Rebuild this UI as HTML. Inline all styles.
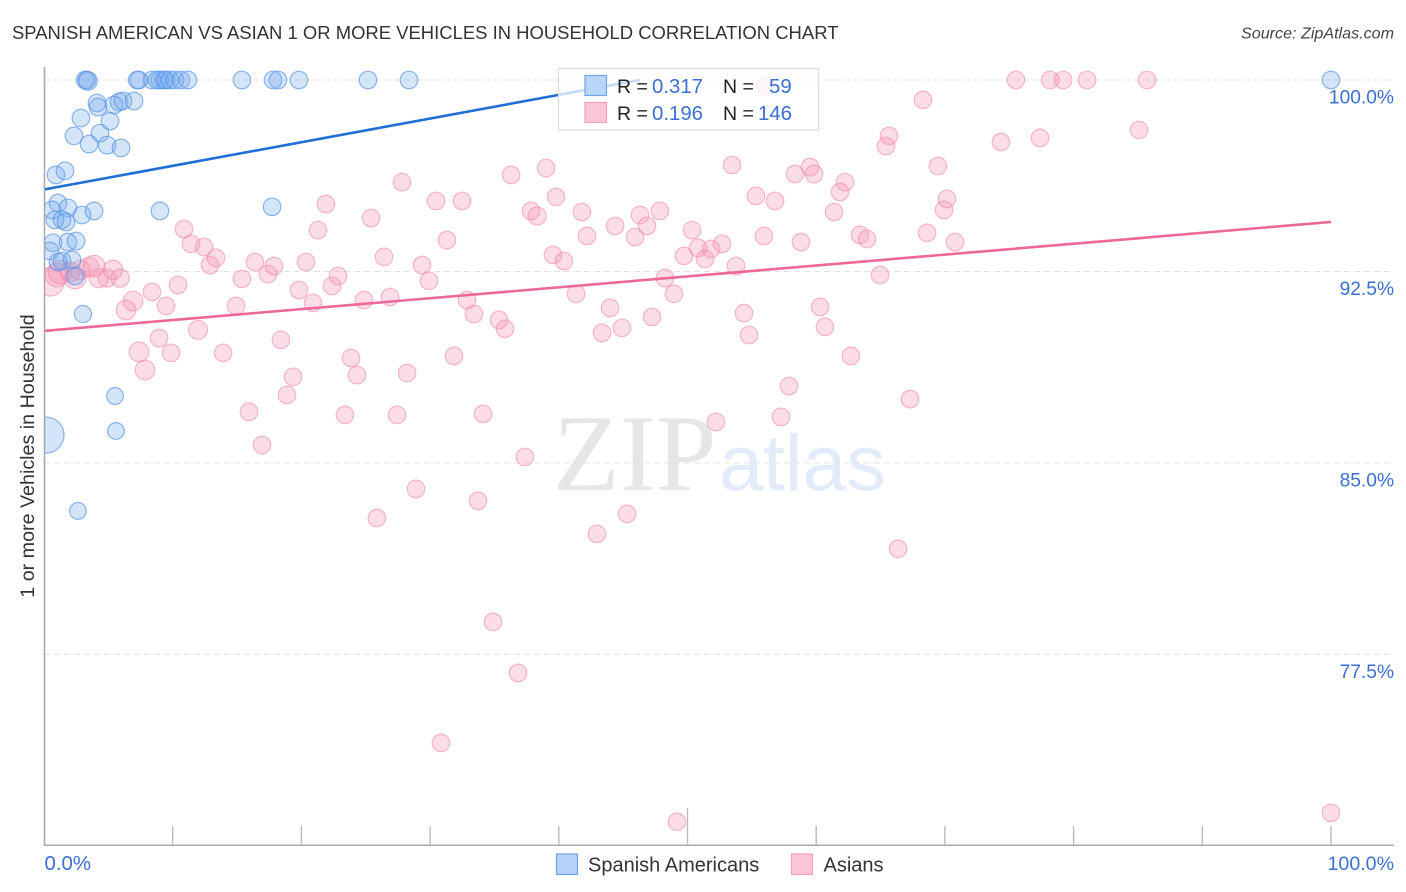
<!DOCTYPE html>
<html lang="en">
<head>
<meta charset="utf-8">
<title>Spanish American vs Asian 1 or more Vehicles in Household Correlation Chart</title>
<style>
html,body{margin:0;padding:0;background:#fff;}
body{width:1406px;height:892px;overflow:hidden;font-family:"Liberation Sans",sans-serif;}
svg{display:block;}
text{font-family:"Liberation Sans",sans-serif;}
</style>
</head>
<body>
<svg id="chart" width="1406" height="892" viewBox="0 0 1406 892" xmlns="http://www.w3.org/2000/svg">
  <defs>
    <clipPath id="plot-clip"><rect x="45" y="60" width="1349" height="785"/></clipPath>
  </defs>
  <text x="12" y="39" font-size="18.47" fill="#333">SPANISH AMERICAN VS ASIAN 1 OR MORE VEHICLES IN HOUSEHOLD CORRELATION CHART</text>
  <text x="1394" y="38.5" font-size="16.1" font-style="italic" fill="#444" text-anchor="end">Source: ZipAtlas.com</text>
  <text x="553" y="490" font-size="109" fill="#e6e6e6" style="font-family:'Liberation Serif',serif">ZIP</text>
  <text x="719" y="490" font-size="79" fill="#e2ebf9">atlas</text>
  <g id="grid"></g>
  <g id="x-axis"></g>
  <g id="y-axis"></g>
  <text transform="translate(34,456) rotate(-90)" font-size="19.7" fill="#333" text-anchor="middle">1 or more Vehicles in Household</text>
  <g clip-path="url(#plot-clip)">
    <g id="asian-points"></g>
    <g id="spanish-points"></g>
    <g id="trends"></g>
  </g>
  <g>
    <rect x="558.5" y="68.5" width="260" height="61.5" fill="#fff" fill-opacity="0.75" stroke="#ddd" stroke-width="1.2"/>
    <rect x="585" y="75.5" width="21.5" height="20" fill="#b5d3f8" fill-opacity="0.95" stroke="#6fa3e4" stroke-width="1.2"/>
    <rect x="585" y="102.5" width="21.5" height="20" fill="#fcc6d8" stroke="#f0a0b8" stroke-width="1.2"/>
    <text x="617" y="93" font-size="19.5" fill="#222" xml:space="preserve">R = </text>
    <text x="652" y="93" font-size="20.4" fill="#3b6fd1">0.317</text>
    <text x="723" y="93" font-size="19.5" fill="#222">N =</text>
    <text x="769" y="93" font-size="20.4" fill="#3b6fd1">59</text>
    <text x="617" y="120" font-size="19.5" fill="#222">R =</text>
    <text x="652" y="120" font-size="20.4" fill="#3b6fd1">0.196</text>
    <text x="723" y="120" font-size="19.5" fill="#222">N =</text>
    <text x="758" y="120" font-size="20.4" fill="#3b6fd1">146</text>
  </g>
  <g>
    <rect x="556.5" y="854" width="21" height="20.5" fill="#b5d3f8" stroke="#6fa3e4" stroke-width="1.2"/>
    <text x="588" y="871.5" font-size="20" fill="#333">Spanish Americans</text>
    <rect x="791.5" y="854" width="21" height="20.5" fill="#fcc6d8" stroke="#f0a0b8" stroke-width="1.2"/>
    <text x="823.5" y="871.5" font-size="20" fill="#333">Asians</text>
  </g>
</svg>
<script>
// Tick data
const xTickValues = [0,10,20,30,40,50,60,70,80,90,100];
const yTickValues = [100,92.5,85,77.5];
const yTickLabels = ["100.0%","92.5%","85.0%","77.5%"];
const xEndLabels = ["0.0%","100.0%"];

// Spanish Americans series (x %, y %, population weight)
const spanishX = [3.19,3.34,3.42,7.23,7.38,8.39,8.78,9.01,9.32,9.48,9.79,10.18,10.64,11.19,15.38,17.79,18.18,19.81,25.17,28.36,100,
4.12,4.20,5.44,5.83,6.14,6.99,5.13,2.87,2.33,4.35,3.50,4.90,5.98,0.93,1.63,
1.09,1.86,0.62,0.85,1.40,1.71,2.95,3.89,9.01,17.72,
0.70,1.86,2.49,0.47,1.40,2.18,1.09,2.41,3.03,5.52,5.59,2.64,0.16];
const spanishY = [100,100,99.96,100,100,100,100,100,100,100,100,100,100,100,100,100,100,100,100,100,100,
99.10,98.94,99.02,99.14,99.18,99.18,98.39,98.51,97.81,97.92,97.49,97.45,97.34,96.28,96.44,
95.18,94.99,94.91,94.52,94.52,94.44,94.71,94.87,94.87,95.03,
93.62,93.65,93.69,93.30,92.91,92.95,92.87,92.32,90.83,87.62,86.25,83.12,86.09];
const spanishWeight = [1,1,1.1,1,1,1,1,1,1,1,1,1,1,1,1,1,1,1,1,1,1,
1,1,1,1,1,1,1,1,1,1,1,1,1,1,1,
1,1,1,1,1,1,1,1,1,1,
1,1,1,1,1,1,1,1,0.95,0.9,0.9,0.9,4.18];

// Asians series (x %, y %, population weight)
const asianX = [21.91,25.41,30.46,32.48,21.29,10.88,11.42,12.43,13.36,12.90,16.39,17.87,17.40,15.38,10.41,20.36,26.42,31.31,37.84,38.31,39.78,39.55,40.40,29.37,29.91,22.84,22.38,19.81,20.90,14.92,9.48,24.86,26.88,32.87,33.41,35.35,35.82,11.97,8.94,9.87,13.91,18.41,23.85,24.32,19.35,18.88,28.21,31.86,15.93,23.39,27.43,34.11,
53.46,39.01,69.46,59.52,58.35,59.83,62.24,61.85,55.32,56.80,41.80,70.16,69.93,61.38,47.86,46.31,46.85,44.37,45.92,42.19,50.35,55.94,58.82,63.40,63.95,68.61,70.78,52.68,51.83,50.82,51.36,49.73,53.77,64.96,48.25,48.95,41.34,43.98,47.24,44.91,43.36,54.39,54.78,60.30,60.68,62.70,
65.42,65.66,68.30,74.36,77.39,85.08,75.52,78.17,79.18,81.04,85.70,56.10,36.29,27.82,67.29,57.89,52.21,57.26,37.37,28.90,33.72,25.87,42.97,45.30,66.36,34.89,36.83,30.85,49.18,100,16.94,
6.92,6.37,8.39,7.38,7.85,0.47,1.24,2.41,2.80,3.89,3.50,5.36,4.27,5.91,4.90,1.01,2.02];
const asianY = [95.14,94.59,95.26,95.26,94.12,94.16,93.58,93.46,93.03,92.75,92.87,92.71,92.40,92.21,91.97,92.87,93.07,93.73,94.87,94.67,95.42,93.15,92.91,92.75,92.13,92.32,91.93,91.77,91.27,91.15,91.15,91.38,91.50,91.38,90.83,90.60,90.25,90.21,89.89,89.31,89.31,89.82,89.11,88.44,88.37,87.66,88.52,89.19,87.00,86.88,86.88,86.92,
96.67,96.55,96.63,96.59,96.32,96.32,96.00,95.61,95.46,95.26,94.83,95.34,94.91,94.83,94.87,94.71,94.28,94.28,93.85,93.89,94.12,93.89,93.65,93.93,93.77,94.01,93.65,93.58,93.38,93.42,92.99,93.11,92.71,92.36,92.24,91.62,91.62,91.07,90.72,90.29,90.09,90.87,90.01,91.11,90.33,89.19,
97.41,97.81,99.22,97.57,97.73,98.04,100,100,100,100,100,99.76,96.28,96.00,87.50,88.01,86.60,86.80,85.23,83.98,83.51,82.84,82.22,83.00,81.63,78.77,76.77,74.03,70.94,71.29,85.70,
91.34,90.99,91.70,89.35,88.64,92.09,92.48,92.24,92.56,92.71,92.67,92.56,92.24,92.24,92.24,92.36,92.48];
const asianWeight = [1,1,1,1,1,1,1,1,1,1,1,1,1,1,1,1,1,1,1,1.05,1,1,1,1,1,1,1,1,1,1,1,1,1,1,1,1,1,1.15,1,1,1,1,1,1,1,1,1,1,1,1,1,1,
1,1,1,1,1,1,1,1,1,1,1,1,1,1,1,1,1,1,1,1,1,1,1,1,1,1,1,1,1,1,1,1,1,1,1,1,1,1,1,1,1,1,1,1,1,1,
1,1,1,1,1,1,1,1,1,1,1,1,1,1,1,1,1,1,1,1,1,1,1,1,1,1,1,1,1,1,1,
1.25,1.25,1,1.25,1.25,2.6,1.8,1.5,1.25,1.5,1.25,1.2,1.2,1.1,1.05,1.8,1.25];

// Trend lines (endpoints in data units)
const spanishTrendX = [0,46.3];
const spanishTrendY = [95.71,100];
const asianTrendX = [0,100];
const asianTrendY = [90.17,94.44];

// Axis functions
const xMin = 0, xMax = 100, yMin = 70.03, yMax = 100;
const plotLeft = 44, plotRight = 1331, plotBottom = 845, plotTop = 80;
function xScale(v){ return plotLeft + (v - xMin) / (xMax - xMin) * (plotRight - plotLeft); }
function yScale(v){ return plotBottom - (v - yMin) / (yMax - yMin) * (plotBottom - plotTop); }
function radius(w){ return 8.8 * Math.sqrt(w); }

const NS = "http://www.w3.org/2000/svg";
function make(tag, attrs, parent){
  const el = document.createElementNS(NS, tag);
  for (const k in attrs) el.setAttribute(k, attrs[k]);
  parent.appendChild(el);
  return el;
}

const gridG = document.getElementById("grid");
const xAxisG = document.getElementById("x-axis");
const yAxisG = document.getElementById("y-axis");

yTickValues.forEach(function(v, i){
  const y = yScale(v);
  const line = make("line", {x1: plotLeft, x2: 1394, y1: y, y2: y, stroke: "#e2e2e2", "stroke-width": 1, "stroke-dasharray": "6 4"}, gridG);
  
  
  const label = make("text", {x: 1394, y: y + 23.5, "text-anchor": "end", "font-size": 19.2, fill: "#3b6fd1"}, yAxisG);
  
  
  label.textContent = yTickLabels[i];
});

const yLine = make("line", {x1: 44.5, x2: 44.5, y1: 67, y2: 846, stroke: "#aaa", "stroke-width": 1.6}, yAxisG);


const xLine = make("line", {x1: 44, x2: 1394, y1: 845.2, y2: 845.2, stroke: "#aaa", "stroke-width": 1.5}, xAxisG);



xTickValues.forEach(function(v){
  if (v === xMin) return;
  const x = xScale(v);
  const top = v === 50 ? 808 : 826;
  const tick = make("line", {x1: x, x2: x, y1: top, y2: 845, stroke: "#bbb", "stroke-width": 1.4}, xAxisG);
  
  
});

const x0Label = make("text", {x: 44.5, y: 870, "font-size": 20.4, fill: "#3b6fd1"}, xAxisG);


x0Label.textContent = xEndLabels[0];
const x1Label = make("text", {x: 1394, y: 870, "font-size": 19.6, fill: "#3b6fd1", "text-anchor": "end"}, xAxisG);


x1Label.textContent = xEndLabels[1];

const asianG = document.getElementById("asian-points");
asianX.forEach(function(v, i){
  const c = make("circle", {cx: xScale(v), cy: yScale(asianY[i]), r: radius(asianWeight[i]), fill: "#f48fb1", "fill-opacity": 0.3, stroke: "#f08cae", "stroke-opacity": 0.6, "stroke-width": 1.2}, asianG);
  
  
});

const spanishG = document.getElementById("spanish-points");
spanishX.forEach(function(v, i){
  const c = make("circle", {cx: xScale(v), cy: yScale(spanishY[i]), r: radius(spanishWeight[i]), fill: "#6fa8ee", "fill-opacity": 0.3, stroke: "#5c97e4", "stroke-opacity": 0.7, "stroke-width": 1.2}, spanishG);
  
  
});

const trendG = document.getElementById("trends");
const spanishTrend = make("line", {x1: xScale(spanishTrendX[0]), y1: yScale(spanishTrendY[0]), x2: xScale(spanishTrendX[1]), y2: yScale(spanishTrendY[1]), stroke: "#1f6fd6", "stroke-width": 2.6}, trendG);


const asianTrend = make("line", {x1: xScale(asianTrendX[0]), y1: yScale(asianTrendY[0]), x2: xScale(asianTrendX[1]), y2: yScale(asianTrendY[1]), stroke: "#ec6898", "stroke-width": 2.6}, trendG);


</script>
</body>
</html>
